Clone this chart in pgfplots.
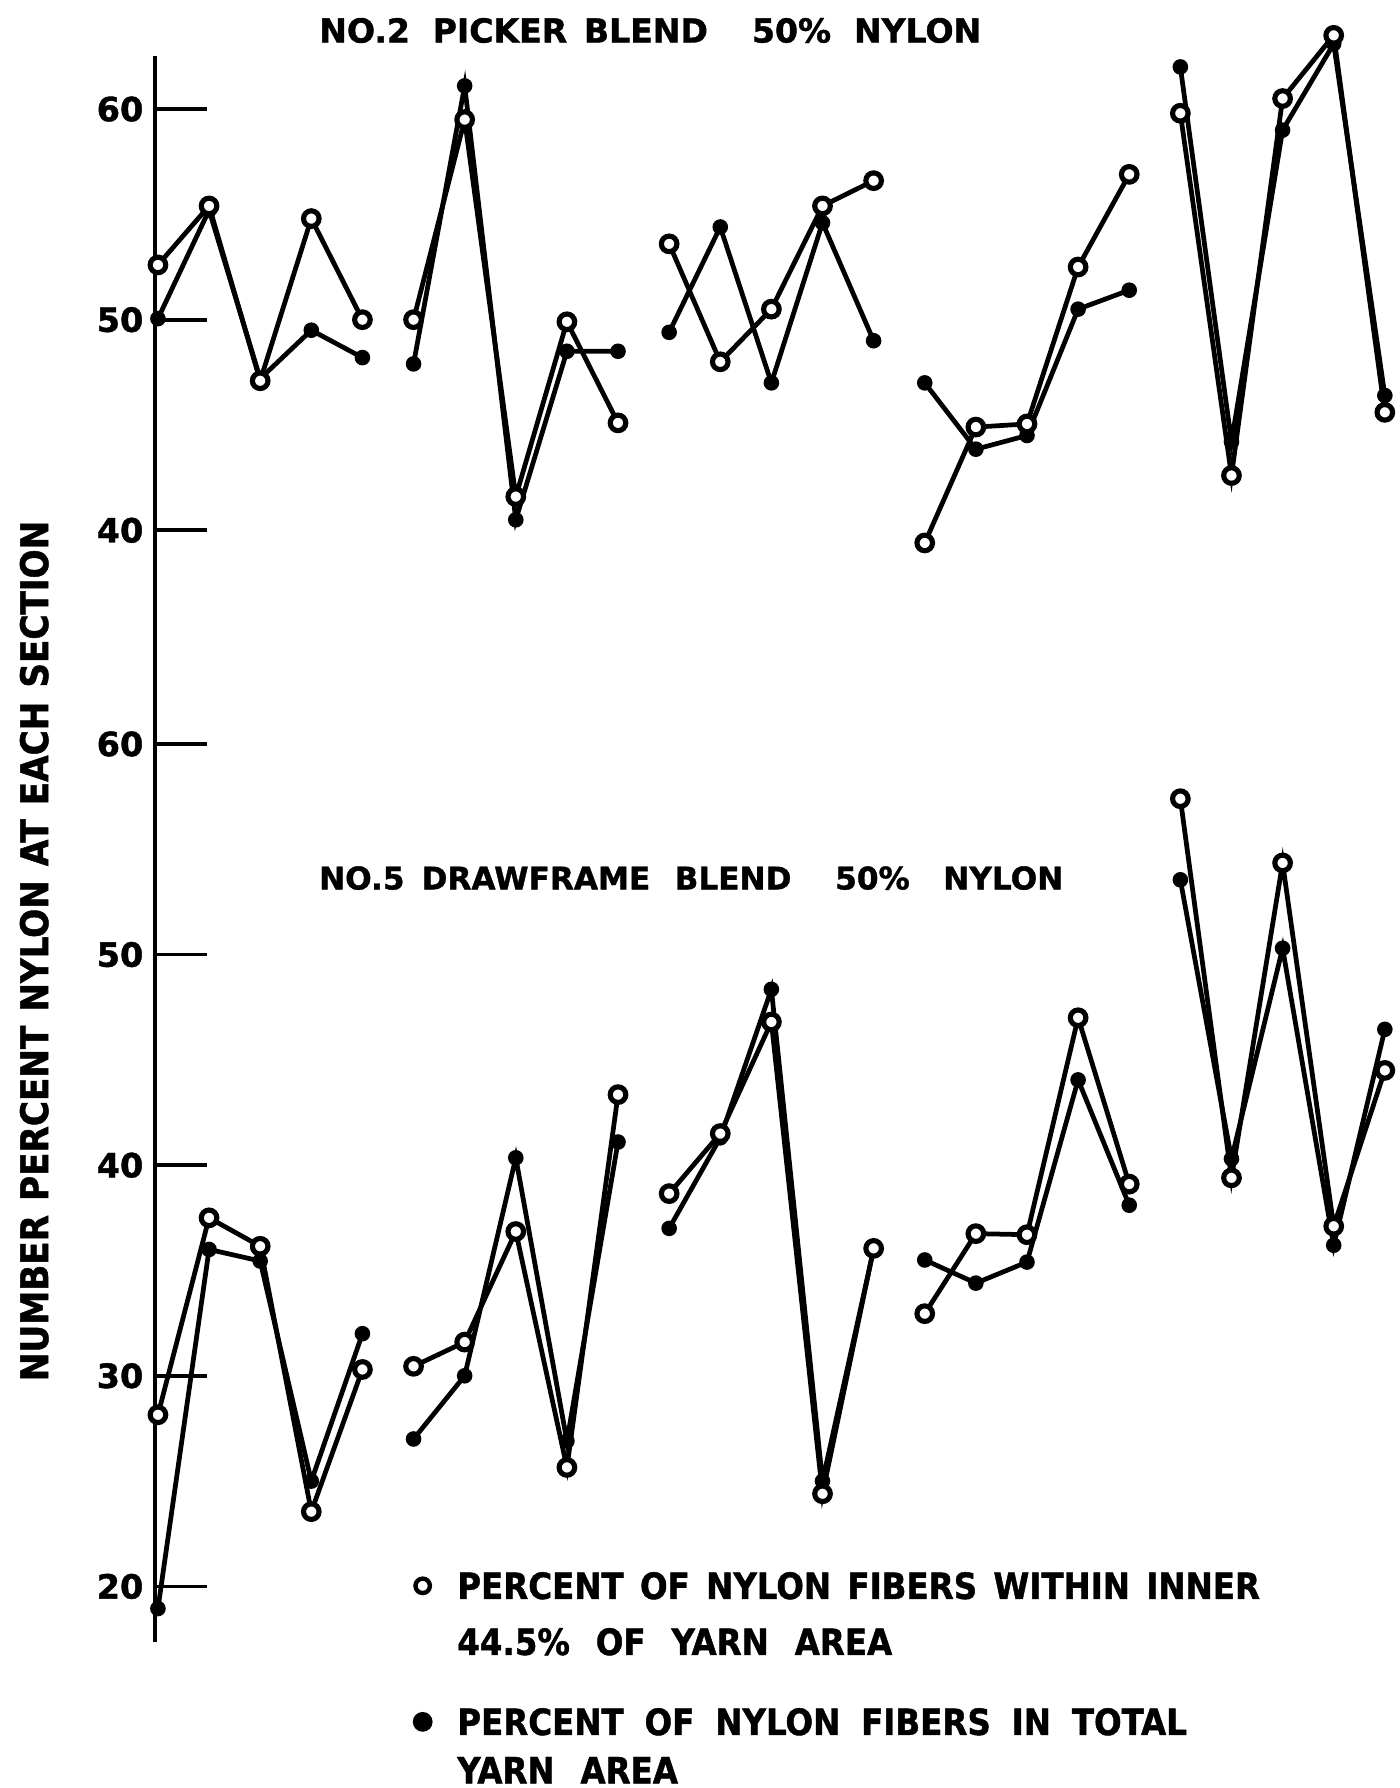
\documentclass[border=0pt]{standalone}
\usepackage{fontspec}
\setmainfont{DejaVu Sans}
\newfontfamily\tfont[FakeBold=1.2]{DejaVu Sans Bold}
\newfontfamily\cfont[FakeBold=1.2]{DejaVu Sans Condensed Bold}
\usepackage{pgfplots}
\usepackage{pgfplotstable}
\pgfplotsset{compat=1.18}
\newcommand{\wsp}{\hspace{4.3pt}}
\newcommand{\wspb}{\hspace{6.8pt}}
\newcommand{\wspc}{\hspace{5.5pt}}
\newcommand{\ysp}{\hspace{3.7pt}}

\pgfplotstableread{
x y
0 52.6
1 55.4
2 47.1
3 54.8
4 50.0
4.5 nan
5 50.0
6 59.5
7 41.6
8 49.9
9 45.1
9.5 nan
10 53.6
11 48.0
12 50.5
13 55.4
14 56.6
14.5 nan
15 39.4
16 44.9
17 45.05
18 52.5
19 56.9
19.5 nan
20 59.8
21 42.6
22 60.5
23 63.5
24 45.6
}\topinner

\pgfplotstableread{
x y
0 50.05
1 55.2
2 47.2
3 49.5
4 48.2
4.5 nan
5 47.9
6 61.1
7 40.5
8 48.5
9 48.5
9.5 nan
10 49.4
11 54.4
12 47.0
13 54.6
14 49.0
14.5 nan
15 47.0
16 43.85
17 44.5
18 50.5
19 51.4
19.5 nan
20 62.0
21 44.2
22 59.0
23 63.1
24 46.4
}\toptotal

\pgfplotstableread{
x y
0 28.15
1 37.5
2 36.15
3 23.55
4 30.3
4.5 nan
5 30.45
6 31.6
7 36.85
8 25.65
9 43.35
9.5 nan
10 38.65
11 41.5
12 46.8
13 24.4
14 36.05
14.5 nan
15 32.95
16 36.75
17 36.7
18 47.0
19 39.1
19.5 nan
20 57.4
21 39.4
22 54.35
23 37.1
24 44.5
}\botinner

\pgfplotstableread{
x y
0 18.95
1 36.0
2 35.45
3 25.0
4 32.0
4.5 nan
5 27.0
6 30.0
7 40.35
8 26.9
9 41.1
9.5 nan
10 37.0
11 41.3
12 48.35
13 25.0
14 36.0
14.5 nan
15 35.5
16 34.4
17 35.4
18 44.05
19 38.1
19.5 nan
20 53.55
21 40.3
22 50.3
23 36.2
24 46.45
}\bottotal

\pgfplotsset{
  panel/.style={
    x=13.449pt, y=5.541pt,
    xmin=-0.056, xmax=24.25,
    anchor=south west,
    axis x line=none,
    axis y line=left,
    axis line style={-, line width=1.15pt, black},
    xtick=\empty,
    tick align=inside,
    major tick length=13.6pt,
    tick style={line width=1.0pt, black},
    yticklabel style={font=\tfont\fontsize{8.8}{10}\selectfont, anchor=east, inner sep=0pt, xshift=-2.9pt},
    /pgf/number format/assume math mode=true,
    clip=false,
    unbounded coords=jump,
  },
  openser/.style={black, line width=1.25pt, mark=*, mark size=2.05pt,
    mark options={fill=white, draw=black, line width=1.35pt, solid}},
  fillser/.style={black, line width=1.25pt, mark=*, mark size=1.8pt,
    mark options={fill=black, draw=black, line width=0.5pt, solid}},
  legopen/.style={legend image code/.code={%
    \draw[only marks, mark=*, mark size=1.9pt, mark options={fill=white, draw=black, line width=1.15pt}] plot coordinates {(0pt,3.45pt)};}},
  legfill/.style={legend image code/.code={%
    \draw[only marks, mark=*, mark size=2.4pt, mark options={fill=black, draw=black}] plot coordinates {(0pt,3.45pt)};}},
  mylegend/.style={legend style={draw=none, fill=none, anchor=north west,
    inner sep=0pt, outer sep=0pt,
    nodes={inner sep=0pt, outer sep=0pt, text height=7pt, text depth=0pt},
    cells={anchor=base west},
    font=\cfont\fontsize{9.5}{11}\selectfont}},
}

\begin{document}
\begin{tikzpicture}
\useasboundingbox (0,0) rectangle (368.1pt,470.4pt);

% top panel: No.2 picker blend
\begin{axis}[panel, at={(40.8pt,302.07pt)}, ymin=34.8, ymax=62.5, ytick={40,50,60},
  mylegend, legend style={at={(0.20955,-1.5984)}, row sep=7.73pt, column sep=7.2pt}]
\addplot[fillser, forget plot] table[x=x, y=y] {\toptotal};
\addplot[openser, forget plot] table[x=x, y=y] {\topinner};
\addlegendimage{legopen}
\addlegendentry{PERCENT\wsp OF\wsp NYLON\wsp FIBERS\wsp WITHIN\wsp INNER}
\addlegendimage{empty legend}
\addlegendentry{44.5\%\wspb OF\wspb YARN\wspb AREA}
\end{axis}

% bottom panel: No.5 drawframe blend
\begin{axis}[panel, at={(40.8pt,38.46pt)}, ymin=17.37, ymax=65.1, ytick={20,30,40,50,60},
  mylegend, legend style={at={(0.20802,-0.06621)}, row sep=5.72pt, column sep=6.7pt}]
\addplot[fillser, forget plot] table[x=x, y=y] {\bottotal};
\addplot[openser, forget plot] table[x=x, y=y] {\botinner};
\addlegendimage{legfill}
\addlegendentry{PERCENT\wspc OF\wspc NYLON\wspc FIBERS\wspc IN\wspc TOTAL}
\addlegendimage{empty legend}
\addlegendentry{YARN\wspb AREA}
\end{axis}

% titles
\node[anchor=base west, inner sep=0pt, font=\tfont\fontsize{8.7}{10}\selectfont] at (83.8pt,459.2pt)
  {NO.2\hspace{6.0pt}PICKER\hspace{4.4pt}BLEND\hspace{11.6pt}50\%\hspace{6.0pt}NYLON};
\node[anchor=base west, inner sep=0pt, font=\tfont\fontsize{8.2}{10}\selectfont] at (83.75pt,236.4pt)
  {NO.5\hspace{4.5pt}DRAWFRAME\hspace{6.4pt}BLEND\hspace{11.5pt}50\%\hspace{8.8pt}NYLON};

% y axis label
\node[rotate=90, inner sep=0pt, font=\cfont\fontsize{10}{11}\selectfont] at (9pt,220.2pt)
  {NUMBER\ysp PERCENT\ysp NYLON\ysp AT\ysp EACH\ysp SECTION};
\end{tikzpicture}
\end{document}
